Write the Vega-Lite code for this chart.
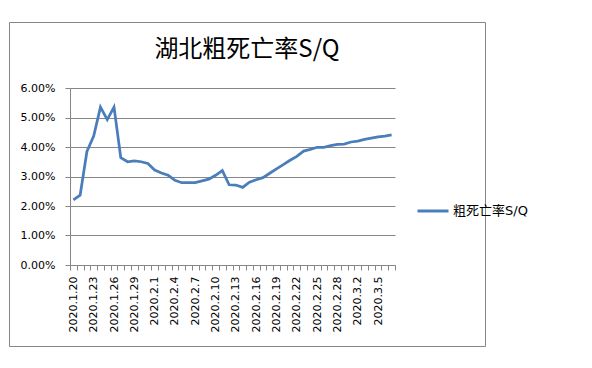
{
  "$schema": "https://vega.github.io/schema/vega-lite/v6.json",
  "width": 476,
  "height": 324,
  "autosize": {"type": "none"},
  "padding": {"left": 9, "top": 22, "right": 107, "bottom": 22},
  "background": "white",
  "config": {
    "view": {"stroke": "#868686", "strokeWidth": 1},
    "axis": {"domainColor": "#868686", "tickColor": "#868686", "gridColor": "#868686", "labelColor": "#000000", "labelFont": "DejaVu Sans", "labelFontSize": 11, "title": null}
  },
  "title": {
    "text": "湖北粗死亡率S/Q",
    "font": "Noto Sans CJK SC",
    "fontSize": 24,
    "fontWeight": "normal",
    "color": "#000000",
    "anchor": "middle",
    "frame": "group",
    "baseline": "top",
    "offset": 0,
    "dy": 40
  },
  "data": {
    "values": [
      {"date": "2020.1.20", "rate": 0.0221},
      {"date": "2020.1.21", "rate": 0.0237},
      {"date": "2020.1.22", "rate": 0.0385},
      {"date": "2020.1.23", "rate": 0.0437},
      {"date": "2020.1.24", "rate": 0.0535},
      {"date": "2020.1.25", "rate": 0.0493},
      {"date": "2020.1.26", "rate": 0.0535},
      {"date": "2020.1.27", "rate": 0.0364},
      {"date": "2020.1.28", "rate": 0.0350},
      {"date": "2020.1.29", "rate": 0.0353},
      {"date": "2020.1.30", "rate": 0.0350},
      {"date": "2020.1.31", "rate": 0.0344},
      {"date": "2020.2.1", "rate": 0.0322},
      {"date": "2020.2.2", "rate": 0.0312},
      {"date": "2020.2.3", "rate": 0.0304},
      {"date": "2020.2.4", "rate": 0.0287},
      {"date": "2020.2.5", "rate": 0.0279},
      {"date": "2020.2.6", "rate": 0.0279},
      {"date": "2020.2.7", "rate": 0.0279},
      {"date": "2020.2.8", "rate": 0.0285},
      {"date": "2020.2.9", "rate": 0.0291},
      {"date": "2020.2.10", "rate": 0.0304},
      {"date": "2020.2.11", "rate": 0.0320},
      {"date": "2020.2.12", "rate": 0.0272},
      {"date": "2020.2.13", "rate": 0.0271},
      {"date": "2020.2.14", "rate": 0.0263},
      {"date": "2020.2.15", "rate": 0.0281},
      {"date": "2020.2.16", "rate": 0.0289},
      {"date": "2020.2.17", "rate": 0.0296},
      {"date": "2020.2.18", "rate": 0.0311},
      {"date": "2020.2.19", "rate": 0.0326},
      {"date": "2020.2.20", "rate": 0.0340},
      {"date": "2020.2.21", "rate": 0.0355},
      {"date": "2020.2.22", "rate": 0.0368},
      {"date": "2020.2.23", "rate": 0.0386},
      {"date": "2020.2.24", "rate": 0.0392},
      {"date": "2020.2.25", "rate": 0.0399},
      {"date": "2020.2.26", "rate": 0.0399},
      {"date": "2020.2.27", "rate": 0.0405},
      {"date": "2020.2.28", "rate": 0.0409},
      {"date": "2020.2.29", "rate": 0.0410},
      {"date": "2020.3.1", "rate": 0.0417},
      {"date": "2020.3.2", "rate": 0.0420},
      {"date": "2020.3.3", "rate": 0.0426},
      {"date": "2020.3.4", "rate": 0.0430},
      {"date": "2020.3.5", "rate": 0.0434},
      {"date": "2020.3.6", "rate": 0.0437},
      {"date": "2020.3.7", "rate": 0.0441}
    ]
  },
  "mark": {"type": "line", "strokeWidth": 2.75},
  "encoding": {
    "x": {
      "field": "date",
      "type": "ordinal",
      "sort": null,
      "bandPosition": 0.5,
      "scale": {"type": "band", "range": [61, 386], "paddingInner": 0, "paddingOuter": 0},
      "axis": {
        "offset": -81,
        "labelAngle": 270,
        "labelAlign": "right",
        "labelBaseline": "middle",
        "labelOverlap": false,
        "tickSize": 5,
        "tickBand": "extent",
        "labelPadding": 6,
        "grid": false,
        "labelExpr": "indexof(['2020.1.20','2020.1.23','2020.1.26','2020.1.29','2020.2.1','2020.2.4','2020.2.7','2020.2.10','2020.2.13','2020.2.16','2020.2.19','2020.2.22','2020.2.25','2020.2.28','2020.3.2','2020.3.5'], datum.value) >= 0 ? datum.label : ''"
      }
    },
    "y": {
      "field": "rate",
      "type": "quantitative",
      "scale": {"domain": [0, 0.06], "range": [243, 66], "nice": false, "zero": true},
      "axis": {
        "offset": -61,
        "format": ".2%",
        "values": [0, 0.01, 0.02, 0.03, 0.04, 0.05, 0.06],
        "tickSize": 5,
        "labelPadding": 10,
        "grid": true
      }
    },
    "color": {
      "datum": "粗死亡率S/Q",
      "scale": {"range": ["#4A7EBB"]},
      "legend": {
        "title": null,
        "orient": "none",
        "legendX": 407,
        "legendY": 172,
        "padding": 0,
        "symbolType": "stroke",
        "symbolSize": 961,
        "symbolStrokeWidth": 3,
        "labelOffset": 3,
        "labelFont": "DejaVu Sans, Noto Sans CJK SC",
        "labelFontSize": 13,
        "labelColor": "#000000"
      }
    }
  }
}
